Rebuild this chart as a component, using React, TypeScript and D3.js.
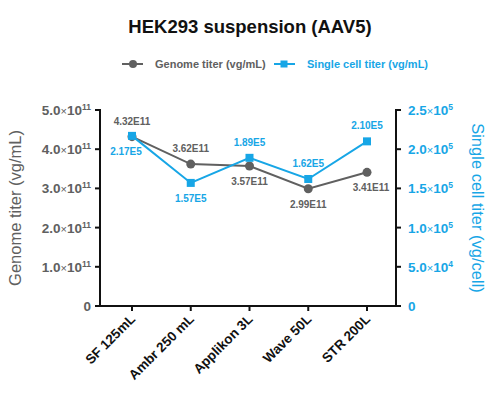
import React from "react";
import * as d3 from "d3";

const categories = ["SF 125mL", "Ambr 250 mL", "Applikon 3L", "Wave 50L", "STR 200L"];
const genomeTiter = [4.32e11, 3.62e11, 3.57e11, 2.99e11, 3.41e11];
const genomeLabels = ["4.32E11", "3.62E11", "3.57E11", "2.99E11", "3.41E11"];
const cellTiter = [2.17e5, 1.57e5, 1.89e5, 1.62e5, 2.1e5];
const cellLabels = ["2.17E5", "1.57E5", "1.89E5", "1.62E5", "2.10E5"];
const genomeLabelSide = [-1, -1, 1, 1, 1];
const leftTicks = [0, 1e11, 2e11, 3e11, 4e11, 5e11];
const rightTicks = [0, 5e4, 1e5, 1.5e5, 2e5, 2.5e5];

const GRAY = "#606060";
const BLUE = "#17a6e6";
const FONT = "'Liberation Sans', Arial, sans-serif";

function sci(v: number) {
  if (v === 0) return null;
  const e = Math.floor(Math.log10(v));
  const m = v / Math.pow(10, e);
  return { m: m.toFixed(1), e: String(e) };
}

export default function App() {
  const W = 499, H = 393;
  const left = 100, right = 396, top = 110, bottom = 306;
  const x = d3.scalePoint<string>().domain(categories).range([132, 367]);
  const yL = d3.scaleLinear().domain([0, 5e11]).range([bottom, top]);
  const yR = d3.scaleLinear().domain([0, 2.5e5]).range([bottom, top]);
  const gLine = d3.line<number>().x((_, i) => x(categories[i])!).y((d) => yL(d));
  const cLine = d3.line<number>().x((_, i) => x(categories[i])!).y((d) => yR(d));

  const tickLabel = (v: number, xx: number, yy: number, anchor: string, color: string) => {
    const s = sci(v);
    if (!s) {
      return (
        <text x={xx} y={yy + 5} textAnchor={anchor} fill={color} fontSize={13.5} fontWeight="bold" fontFamily={FONT}>0</text>
      );
    }
    return (
      <text x={xx} y={yy + 5} textAnchor={anchor} fill={color} fontSize={13.5} fontWeight="bold" fontFamily={FONT}>
        {s.m}
        <tspan fontWeight="normal" fontSize={11}>×</tspan>
        10
        <tspan fontSize={8.5} dy={-5}>{s.e}</tspan>
      </text>
    );
  };

  return (
    <svg width={W} height={H} style={{ display: "block", position: "absolute", left: 0, top: 0 }}>
      <rect width={W} height={H} fill="#fff" />
      <text x={250} y={33} textAnchor="middle" fontSize={18.5} fontWeight="bold" fontFamily={FONT} fill="#111">
        HEK293 suspension (AAV5)
      </text>
      {/* legend */}
      <g fontFamily={FONT} fontSize={11} fontWeight="bold">
        <line x1={122} x2={143} y1={64} y2={64} stroke={GRAY} strokeWidth={2} />
        <circle cx={133} cy={64} r={4} fill={GRAY} />
        <text x={155} y={68} fill={GRAY}>Genome titer (vg/mL)</text>
        <line x1={274} x2={295} y1={64} y2={64} stroke={BLUE} strokeWidth={2} />
        <rect x={280.5} y={60.5} width={7} height={7} fill={BLUE} />
        <text x={307} y={68} fill={BLUE}>Single cell titer (vg/mL)</text>
      </g>
      {/* axes */}
      <g stroke="#111" strokeWidth={2} fill="none">
        <path d={`M${left},${top - 1}V${bottom}H${right}V${top - 1}`} />
        {leftTicks.map((t) => (
          <line key={"l" + t} x1={left - 5} x2={left} y1={yL(t)} y2={yL(t)} />
        ))}
        {rightTicks.map((t) => (
          <line key={"r" + t} x1={right} x2={right + 5} y1={yR(t)} y2={yR(t)} />
        ))}
        {categories.map((c) => (
          <line key={c} x1={x(c)} x2={x(c)} y1={bottom} y2={bottom + 5} />
        ))}
      </g>
      {leftTicks.map((t) => (
        <g key={"lt" + t}>{tickLabel(t, left - 9, yL(t), "end", GRAY)}</g>
      ))}
      {rightTicks.map((t) => (
        <g key={"rt" + t}>{tickLabel(t, right + 12, yR(t), "start", BLUE)}</g>
      ))}
      {categories.map((c) => (
        <text
          key={"xl" + c}
          transform={`translate(${x(c)! + 4},${bottom + 14}) rotate(-45)`}
          textAnchor="end"
          fontSize={13.5}
          fontWeight="bold"
          fontFamily={FONT}
          fill="#111"
        >
          {c}
        </text>
      ))}
      <text
        transform={`translate(21,208) rotate(-90)`}
        textAnchor="middle"
        fontSize={16.5}
        fontFamily={FONT}
        fill={GRAY}
      >
        Genome titer (vg/mL)
      </text>
      <text
        transform={`translate(472,208) rotate(90)`}
        textAnchor="middle"
        fontSize={16.5}
        fontFamily={FONT}
        fill={BLUE}
      >
        Single cell titer (vg/cell)
      </text>
      {/* series */}
      <path d={gLine(genomeTiter)!} fill="none" stroke={GRAY} strokeWidth={2} />
      {genomeTiter.map((v, i) => (
        <circle key={"gc" + i} cx={x(categories[i])} cy={yL(v)} r={4.5} fill={GRAY} />
      ))}
      <path d={cLine(cellTiter)!} fill="none" stroke={BLUE} strokeWidth={2} />
      {cellTiter.map((v, i) => (
        <rect key={"cr" + i} x={x(categories[i])! - 4} y={yR(v) - 4} width={8} height={8} fill={BLUE} />
      ))}
      {/* data labels */}
      <g fontFamily={FONT} fontSize={10} fontWeight="bold" textAnchor="middle">
        {genomeTiter.map((v, i) => (
          <text key={"gl" + i} x={x(categories[i])! + (i === 4 ? 4 : 0)} y={yL(v) + genomeLabelSide[i] * 15.5 + 3.6} fill={GRAY}>
            {genomeLabels[i]}
          </text>
        ))}
        {cellTiter.map((v, i) => (
          <text key={"cl" + i} x={x(categories[i])! + (i === 0 ? -6 : 0)} y={yR(v) - genomeLabelSide[i] * 15.5 + 3.6} fill={BLUE}>
            {cellLabels[i]}
          </text>
        ))}
      </g>
    </svg>
  );
}
